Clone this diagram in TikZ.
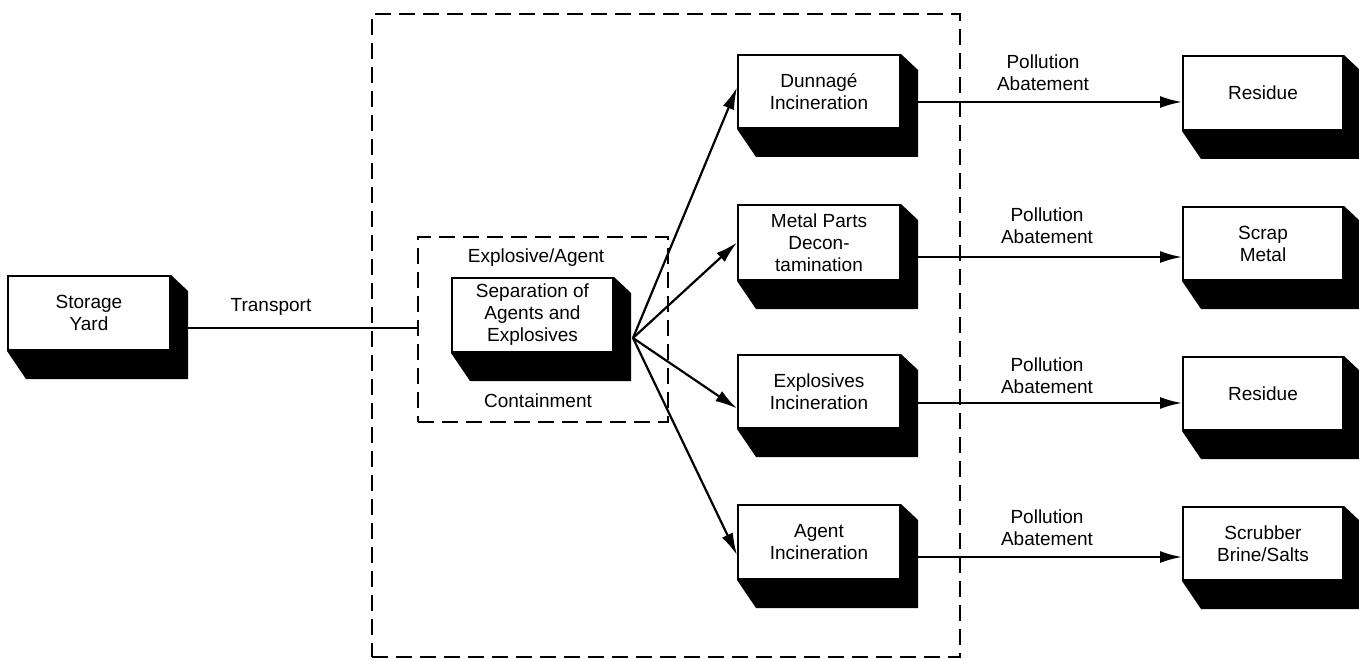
\documentclass[tikz,border=0pt]{standalone}
\usepackage{fontspec}
\setmainfont{Liberation Sans}
\usetikzlibrary{arrows.meta}
\newcommand\extrude[1]{\fill (#1.north east) -- ([shift={(17pt,-16pt)}]#1.north east) -- ([shift={(17pt,-28pt)}]#1.south east) -- ([shift={(19pt,-28pt)}]#1.south west) -- (#1.south west) -- (#1.south east) -- cycle;}
\begin{document}
\begin{tikzpicture}[x=1pt,y=-1pt,
 blk/.style={draw, fill=white, line width=2pt, minimum width=162pt, minimum height=74pt, inner sep=0pt, align=center, font=\fontsize{19}{22}\selectfont},
 lbl/.style={align=center, font=\fontsize{19}{22}\selectfont, inner sep=0pt},
 dashbox/.style={draw, dash pattern=on 16pt off 8pt, line width=2.2pt, inner sep=0pt},
 arr/.style={line width=2.2pt, -{Latex[length=22pt,width=12pt]}},
 link/.style={line width=2.2pt}]
\useasboundingbox (0,0) rectangle (1359,660);
% dashed enclosures
\node[dashbox, minimum width=588pt, minimum height=643pt] (plant) at (666,335.5) {};
\node[dashbox, minimum width=250pt, minimum height=185pt] (cont) at (543,329.5) {};
\node[lbl] (explag) at (536,258) {Explosive/Agent};
\node[lbl] (containment) at (538,401) {Containment};
% boxes
\node[blk] (storage) at (89,313) {Storage\\Yard};
\node[blk, minimum width=161pt] (sep) at (532.5,315) {Separation of\\Agents and\\Explosives};
\node[blk, minimum height=73pt] (dun) at (819,91.5) {Dunnagé\\Incineration};
\node[blk, minimum height=75pt] (metal) at (819,242.5) {Metal Parts\\Decon-\\tamination};
\node[blk, minimum height=73pt] (expl) at (819,391.5) {Explosives\\Incineration};
\node[blk] (agent) at (819,542) {Agent\\Incineration};
\node[blk, minimum width=160pt] (res1) at (1263,93) {Residue};
\node[blk, minimum width=160pt, minimum height=73pt] (scrap) at (1263,243.5) {Scrap\\Metal};
\node[blk, minimum width=160pt, minimum height=73pt] (res2) at (1263,393.5) {Residue};
\node[blk, minimum width=160pt, minimum height=73pt] (scrub) at (1263,543.5) {Scrubber\\Brine/Salts};
\foreach \n in {storage,sep,dun,metal,expl,agent,res1,scrap,res2,scrub} {\extrude{\n}}
% transport
\coordinate (stout) at ([shift={(17pt,-15pt)}]storage.east);
\draw[link] (stout) -- (stout -| cont.west);
\node[lbl] (transport) at (271,307) {Transport};
% fan-out arrows
\coordinate (sepout) at ([shift={(19pt,-23pt)}]sep.east);
\draw[arr] (sepout) -- ([yshift=4pt]dun.west);
\draw[arr] (sepout) -- (metal.west);
\draw[arr] (sepout) -- ([yshift=-17pt]expl.west);
\draw[arr] (sepout) -- ([yshift=-13pt]agent.west);
% pollution abatement arrows
\coordinate (o1) at ([shift={(17pt,-10.5pt)}]dun.east);
\coordinate (o2) at ([shift={(17pt,-14.5pt)}]metal.east);
\coordinate (o3) at ([shift={(17pt,-11.5pt)}]expl.east);
\coordinate (o4) at ([shift={(17pt,-15pt)}]agent.east);
\draw[arr] (o1) -- (o1 -| res1.west);
\draw[arr] (o2) -- (o2 -| scrap.west);
\draw[arr] (o3) -- (o3 -| res2.west);
\draw[arr] (o4) -- (o4 -| scrub.west);
\node[lbl] (pa1) at (1043,73) {Pollution\\Abatement};
\node[lbl] (pa2) at (1047,226) {Pollution\\Abatement};
\node[lbl] (pa3) at (1047,376) {Pollution\\Abatement};
\node[lbl] (pa4) at (1047,528) {Pollution\\Abatement};
\end{tikzpicture}
\end{document}
